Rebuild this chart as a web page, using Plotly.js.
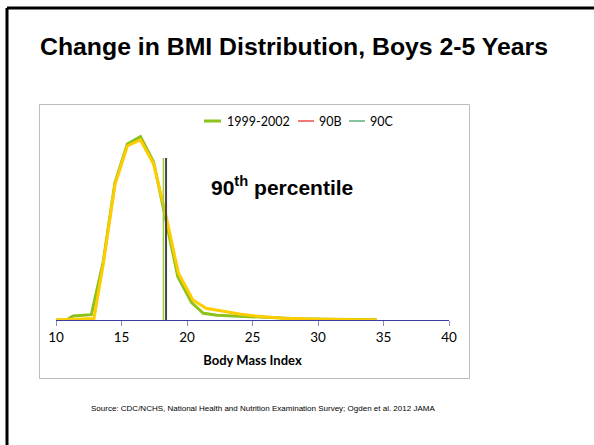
<!DOCTYPE html>
<html>
<head>
<meta charset="utf-8">
<script src="https://cdn.plot.ly/plotly-3.0.1.min.js"></script>
<style>html,body{margin:0;padding:0;background:#fff;}#chart{width:594px;height:445px;}</style>
</head>
<body>
<div id="chart"></div>
<script>
// BMI points (x) and share of boys (%)
const bmiA = [10.0, 10.8, 11.3, 12.7, 13.6, 14.5, 15.45, 16.45, 17.45, 18.3, 19.3, 20.35, 21.25, 22.3, 23.5, 25.0, 26.5, 28.5, 31.0, 34.5];
const pct1999 = [0, 0, 0.6, 0.8, 8.7, 20.6, 26.4, 27.5, 23.7, 15.8, 6.5, 2.6, 1.0, 0.7, 0.6, 0.45, 0.3, 0.2, 0.12, 0.05];
const bmiB = [10.0, 10.8, 11.3, 12.9, 13.6, 14.5, 15.45, 16.45, 17.45, 18.3, 19.35, 20.45, 21.45, 22.8, 24.0, 25.2, 27.3, 30.0, 34.5];
const pctLater = [0, 0.08, 0.15, 0.22, 8.3, 20.3, 26.1, 27.0, 23.4, 16.5, 7.0, 3.0, 1.75, 1.25, 0.9, 0.6, 0.25, 0.12, 0];
const p90B = 18.4, p90C = 18.2, pLineTop = 24.3;
const xTicks = [10, 15, 20, 25, 30, 35, 40];
const legendNames = ['1999-2002', '90B', '90C'];

const green = '#8CC21A', yellow = '#FFCC00';
const traces = [
  {x: bmiA, y: pct1999, mode: 'lines', name: legendNames[0], line: {color: green, width: 3}},
  {x: bmiB, y: pctLater, mode: 'lines', name: 'later', line: {color: yellow, width: 3}},
  {x: [p90C, p90C], y: [0, pLineTop], mode: 'lines', name: legendNames[2], line: {color: '#9CC83C', width: 1.5}},
  {x: [p90B, p90B], y: [0, pLineTop], mode: 'lines', name: legendNames[1], line: {color: '#444444', width: 2}}
];

const W = 594, H = 445, L = 56, R = 449, T = 120, B = 320;
const px = v => (v - L) / (R - L);
const py = v => (B - v) / (B - T);

const legendItems = [
  {x0: 204, x1: 221, tx: 225, color: green, width: 3},
  {x0: 298, x1: 314, tx: 317, color: '#E8201A', width: 1.2},
  {x0: 349, x1: 365, tx: 368, color: '#3A9A5A', width: 1.2}
];
const legY = 121;

const annotations = [
  {text: '<b>90<sup>th</sup> percentile</b>', xref: 'paper', yref: 'paper', x: px(282), y: py(186),
   showarrow: false, xanchor: 'center', yanchor: 'middle',
   font: {family: '"Liberation Sans Narrow", "Arial Narrow", "Liberation Sans", Arial, sans-serif', size: 21, color: '#000'}},
  {text: 'Source: CDC/NCHS, National Health and Nutrition Examination Survey; Ogden et al. 2012 JAMA',
   xref: 'paper', yref: 'paper', x: px(263), y: py(408), showarrow: false, xanchor: 'center', yanchor: 'middle',
   font: {family: '"Liberation Sans", Arial, sans-serif', size: 8, color: '#000'}}
];
const shapes = [
  {type: 'rect', xref: 'paper', yref: 'paper', x0: px(39.5), x1: px(469.5), y0: py(104.5), y1: py(378.5),
   line: {color: '#BDBDBD', width: 1}, layer: 'below'},
  {type: 'line', xref: 'paper', yref: 'paper', x0: px(7), x1: px(600), y0: py(8), y1: py(8), line: {color: '#000', width: 3}},
  {type: 'line', xref: 'paper', yref: 'paper', x0: px(7), x1: px(7), y0: py(8), y1: py(450), line: {color: '#000', width: 3}}
];
legendItems.forEach((it, i) => {
  shapes.push({type: 'line', xref: 'paper', yref: 'paper', x0: px(it.x0), x1: px(it.x1), y0: py(legY), y1: py(legY),
               line: {color: it.color, width: it.width}});
  annotations.push({text: legendNames[i], xref: 'paper', yref: 'paper', x: px(it.tx), y: py(legY),
                    xanchor: 'left', yanchor: 'middle', showarrow: false, font: {size: 12.5, color: '#000'}});
});

const layout = {
  width: W, height: H,
  margin: {l: L, r: W - R, t: T, b: H - B, pad: 0},
  paper_bgcolor: '#fff', plot_bgcolor: '#fff',
  font: {family: 'Lato, "Open Sans", sans-serif', color: '#000'},
  title: {
    text: '<b>Change in BMI Distribution, Boys 2-5 Years</b>',
    xref: 'container', yref: 'container', x: 294 / W, y: 1 - 46 / H, xanchor: 'center', yanchor: 'middle',
    font: {family: '"Liberation Sans Narrow", "Arial Narrow", "Liberation Sans", Arial, sans-serif', size: 24.8, color: '#000'}
  },
  xaxis: {
    range: [10, 40], tickvals: xTicks, ticktext: xTicks.map(String),
    showgrid: false, zeroline: false, showline: true, linecolor: '#3B3B9E', linewidth: 1,
    ticks: 'outside', ticklen: 5, tickcolor: '#8C8CC8', tickfont: {size: 13.5, color: '#000'},
    title: {text: '<b>Body Mass Index</b>', font: {size: 13, color: '#000'}, standoff: 11}
  },
  yaxis: {range: [0, 30], visible: false, showgrid: false, zeroline: false},
  showlegend: false,
  annotations: annotations,
  shapes: shapes
};

Plotly.newPlot('chart', traces, layout, {displayModeBar: false, staticPlot: true});
</script>
</body>
</html>
